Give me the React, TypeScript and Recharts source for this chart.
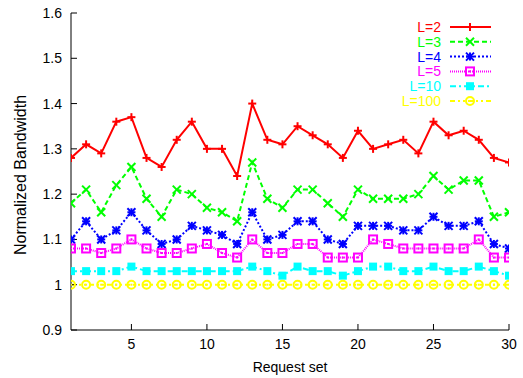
import React from 'react';
import { LineChart, Line, XAxis, YAxis } from 'recharts';

const requestSets = [1, 2, 3, 4, 5, 6, 7, 8, 9, 10, 11, 12, 13, 14, 15, 16, 17, 18, 19, 20, 21, 22, 23, 24, 25, 26, 27, 28, 29, 30];
const L2 = [1.28, 1.31, 1.29, 1.36, 1.37, 1.28, 1.26, 1.32, 1.36, 1.30, 1.30, 1.24, 1.40, 1.32, 1.31, 1.35, 1.33, 1.31, 1.28, 1.34, 1.30, 1.31, 1.32, 1.29, 1.36, 1.33, 1.34, 1.32, 1.28, 1.27];
const L3 = [1.18, 1.21, 1.16, 1.22, 1.26, 1.19, 1.15, 1.21, 1.20, 1.17, 1.16, 1.14, 1.27, 1.19, 1.17, 1.21, 1.21, 1.18, 1.15, 1.21, 1.19, 1.19, 1.19, 1.20, 1.24, 1.21, 1.23, 1.23, 1.15, 1.16];
const L4 = [1.10, 1.14, 1.10, 1.12, 1.16, 1.12, 1.09, 1.10, 1.13, 1.12, 1.11, 1.09, 1.16, 1.10, 1.11, 1.14, 1.14, 1.10, 1.09, 1.13, 1.13, 1.13, 1.12, 1.12, 1.15, 1.13, 1.13, 1.14, 1.09, 1.08];
const L5 = [1.08, 1.08, 1.07, 1.08, 1.10, 1.08, 1.07, 1.07, 1.08, 1.09, 1.07, 1.06, 1.10, 1.07, 1.07, 1.09, 1.09, 1.06, 1.06, 1.06, 1.10, 1.09, 1.08, 1.08, 1.08, 1.08, 1.08, 1.10, 1.06, 1.06];
const L10 = [1.03, 1.03, 1.03, 1.03, 1.04, 1.03, 1.03, 1.03, 1.03, 1.03, 1.03, 1.03, 1.04, 1.03, 1.02, 1.04, 1.03, 1.03, 1.02, 1.03, 1.04, 1.04, 1.03, 1.03, 1.04, 1.03, 1.03, 1.04, 1.03, 1.02];
const L100 = [1.00, 1.00, 1.00, 1.00, 1.00, 1.00, 1.00, 1.00, 1.00, 1.00, 1.00, 1.00, 1.00, 1.00, 1.00, 1.00, 1.00, 1.00, 1.00, 1.00, 1.00, 1.00, 1.00, 1.00, 1.00, 1.00, 1.00, 1.00, 1.00, 1.00];

const xTicks = [5, 10, 15, 20, 25, 30];
const yTicks = [0.9, 1.0, 1.1, 1.2, 1.3, 1.4, 1.5, 1.6];

const seriesNames = ['L=2', 'L=3', 'L=4', 'L=5', 'L=10', 'L=100'];
const seriesValues = [L2, L3, L4, L5, L10, L100];
const seriesColors = ['#ff0000', '#00ff00', '#0000ff', '#ff00ff', '#00ffff', '#ffff00'];
const seriesMarkers = ['plus', 'cross', 'star', 'boxdot', 'fillbox', 'circle'];
const seriesDash = ['', '5 3', '2 2', '1 1', '6 3 2 3', '5 3 2 3 2 3'];

const data = requestSets.map((x, i) => {
  const row: any = { x };
  seriesNames.forEach((n, k) => {
    row[n] = seriesValues[k][i];
  });
  return row;
});

const FONT = '"Liberation Sans", Arial, Helvetica, sans-serif';

function Marker({ cx, cy, kind, color }: { cx: number; cy: number; kind: string; color: string }) {
  const s = 4;
  if (kind === 'plus') {
    return (
      <g stroke={color} strokeWidth={2}>
        <line x1={cx - s} y1={cy} x2={cx + s} y2={cy} />
        <line x1={cx} y1={cy - s} x2={cx} y2={cy + s} />
      </g>
    );
  }
  if (kind === 'cross') {
    return (
      <g stroke={color} strokeWidth={2}>
        <line x1={cx - s} y1={cy - s} x2={cx + s} y2={cy + s} />
        <line x1={cx - s} y1={cy + s} x2={cx + s} y2={cy - s} />
      </g>
    );
  }
  if (kind === 'star') {
    return (
      <g stroke={color} strokeWidth={2}>
        <line x1={cx - s} y1={cy - s} x2={cx + s} y2={cy + s} />
        <line x1={cx - s} y1={cy + s} x2={cx + s} y2={cy - s} />
        <line x1={cx - s} y1={cy} x2={cx + s} y2={cy} />
        <line x1={cx} y1={cy - s} x2={cx} y2={cy + s} />
      </g>
    );
  }
  if (kind === 'boxdot') {
    return (
      <g>
        <rect x={cx - s} y={cy - s} width={2 * s} height={2 * s} fill="none" stroke={color} strokeWidth={2} />
        <rect x={cx - 1} y={cy - 1} width={2} height={2} fill={color} />
      </g>
    );
  }
  if (kind === 'fillbox') {
    return <rect x={cx - s} y={cy - s} width={2 * s} height={2 * s} fill={color} />;
  }
  return (
    <g>
      <circle cx={cx} cy={cy} r={s} fill="none" stroke={color} strokeWidth={2} />
      <rect x={cx - 1} y={cy - 1} width={2} height={2} fill={color} />
    </g>
  );
}

const yFmt = (v: number) => String(Number(v.toFixed(1)));

export default function App() {
  const legendX = 441;
  const legendTop = 27;
  const legendStep = 14.8;
  return (
    <div style={{ position: 'absolute', left: 0, top: 0, width: 523, height: 378, background: '#fff' }}>
      <LineChart width={523} height={378} data={data} margin={{ top: 13, right: 14, bottom: 0, left: 0 }}>
        <XAxis
          dataKey="x"
          type="number"
          domain={[1, 30]}
          ticks={xTicks}
          allowDataOverflow
          height={48}
          stroke="#000"
          tickSize={-6}
          tickMargin={15}
          tickLine={{ stroke: '#000' }}
          tick={{ fill: '#000', fontSize: 14, fontFamily: FONT }}
          label={{ value: 'Request set', position: 'insideBottom', offset: 6, fill: '#000', fontSize: 14, fontFamily: FONT }}
        />
        <XAxis
          xAxisId="top"
          orientation="top"
          dataKey="x"
          type="number"
          domain={[1, 30]}
          ticks={xTicks}
          allowDataOverflow
          height={0}
          stroke="#000"
          tickSize={-6}
          tickFormatter={() => ''}
        />
        <YAxis
          type="number"
          domain={[0.9, 1.6]}
          ticks={yTicks}
          allowDataOverflow
          width={71}
          stroke="#000"
          tickSize={-6}
          tickMargin={15}
          tickFormatter={yFmt}
          tick={{ fill: '#000', fontSize: 14, fontFamily: FONT }}
        />
        <YAxis
          yAxisId="right"
          orientation="right"
          type="number"
          domain={[0.9, 1.6]}
          ticks={yTicks}
          allowDataOverflow
          width={0}
          stroke="#000"
          tickSize={-6}
          tickFormatter={() => ''}
        />
        {seriesNames.map((name, k) => (
          <Line
            key={name}
            dataKey={name}
            stroke={seriesColors[k]}
            strokeWidth={2}
            strokeDasharray={seriesDash[k] || undefined}
            isAnimationActive={false}
            dot={(p: any) => (
              <Marker key={`${name}-${p.index}`} cx={p.cx} cy={p.cy} kind={seriesMarkers[k]} color={seriesColors[k]} />
            )}
            activeDot={false}
          />
        ))}
      </LineChart>
      <svg width={523} height={378} style={{ position: 'absolute', left: 0, top: 0, pointerEvents: 'none' }}>
        <text
          x={0}
          y={0}
          transform="translate(26,175) rotate(-90)"
          textAnchor="middle"
          fontSize={16}
          fontFamily={FONT}
          fill="#000"
        >
          Normalized Bandwidth
        </text>
        {seriesNames.map((name, k) => {
          const y = legendTop + k * legendStep;
          return (
            <g key={name}>
              <text x={legendX} y={y + 5} textAnchor="end" fontSize={14} fontFamily={FONT} fill={seriesColors[k]}>
                {name}
              </text>
              <line x1={450} y1={y} x2={491} y2={y} stroke={seriesColors[k]} strokeWidth={2} strokeDasharray={seriesDash[k] || undefined} />
              <Marker cx={470} cy={y} kind={seriesMarkers[k]} color={seriesColors[k]} />
            </g>
          );
        })}
      </svg>
    </div>
  );
}
